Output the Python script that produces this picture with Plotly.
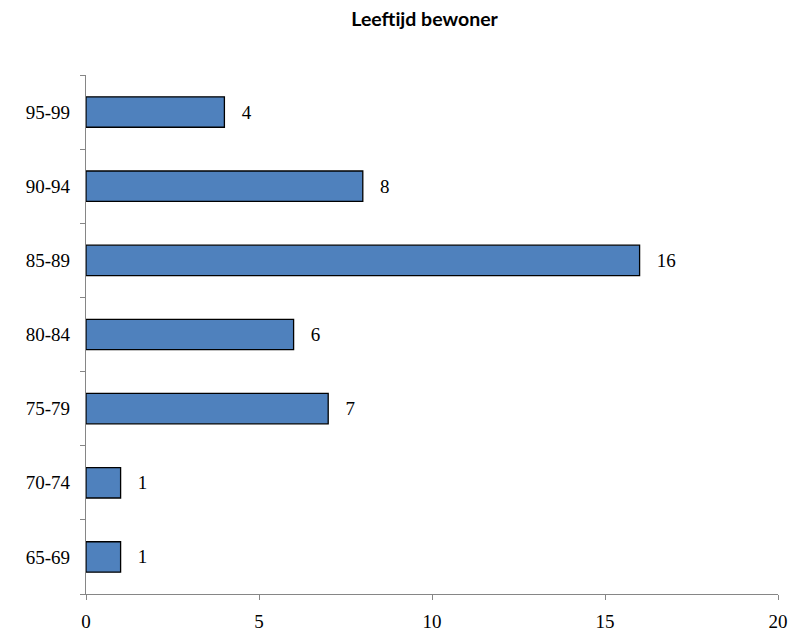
import plotly.graph_objects as go

categories = ["65-69", "70-74", "75-79", "80-84", "85-89", "90-94", "95-99"]
values = [1, 1, 7, 6, 16, 8, 4]
x_ticks = [0, 5, 10, 15, 20]
title = "Leeftijd bewoner"

serif = "Liberation Serif, DejaVu Serif, serif"
axis_color = "#868686"

fig = go.Figure(go.Bar(
    y=categories, x=values, orientation="h",
    marker=dict(color="#4F81BD", line=dict(color="black", width=1.3)),
    text=values, texttemplate="   %{x}", textposition="outside",
    textfont=dict(family=serif, size=19, color="black"),
    cliponaxis=False, width=0.41,
))

fig.update_layout(
    width=789, height=625,
    margin=dict(l=77.5, r=19, t=67, b=39, autoexpand=False),
    paper_bgcolor="white", plot_bgcolor="white",
    showlegend=False,
    title=dict(text="<b>" + title + "</b>", x=0.528, xanchor="center", y=0.982, yanchor="middle",
               font=dict(family="Lato, Liberation Sans, sans-serif", size=19.5, color="black")),
    xaxis=dict(range=[0, 20], tickvals=x_ticks, showgrid=False, zeroline=False, automargin=False,
               showline=True, linecolor=axis_color, linewidth=1.3,
               ticks="outside", ticklen=5, tickcolor=axis_color, tickwidth=1.3,
               tickfont=dict(family=serif, size=19, color="black"), ticklabelstandoff=5),
    yaxis=dict(categoryorder="array", categoryarray=categories, showgrid=False, zeroline=False,
               automargin=False,
               showline=True, linecolor=axis_color, linewidth=1.3,
               ticks="outside", ticklen=5, tickcolor=axis_color, tickwidth=1.3, tickson="boundaries",
               tickfont=dict(family=serif, size=19, color="black"), ticklabelstandoff=11),
)

fig.write_html("out.html")
